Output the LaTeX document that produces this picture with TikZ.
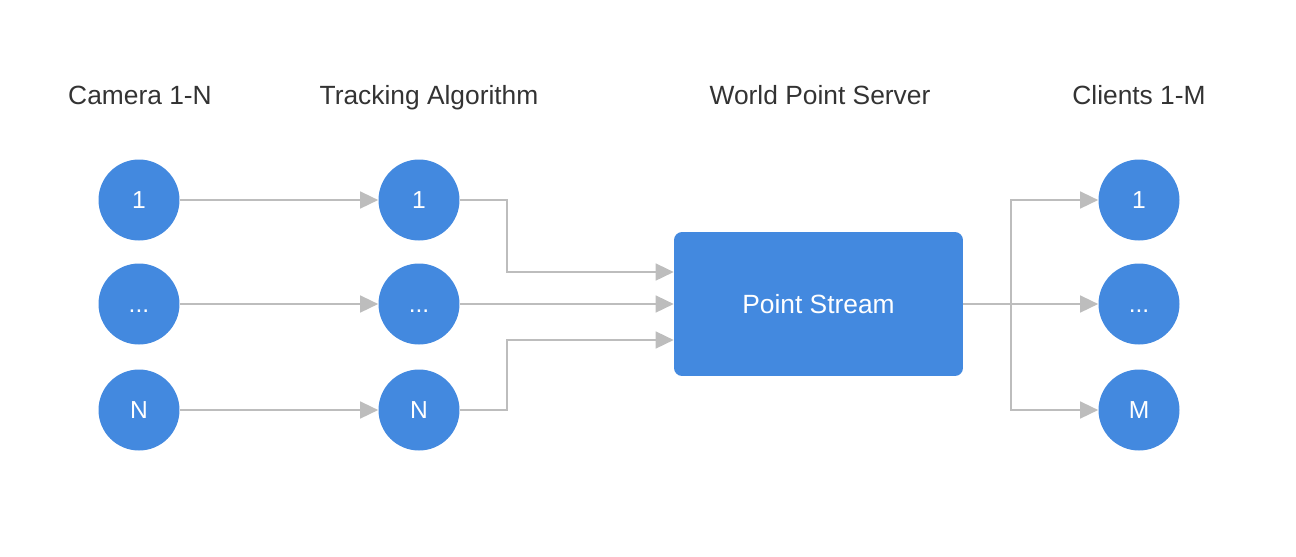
\documentclass[tikz,border=0pt]{standalone}
\usepackage{fontspec}
\setmainfont{Liberation Sans}
\usetikzlibrary{arrows.meta, positioning}
\definecolor{nodeblue}{RGB}{67, 137, 223}
\definecolor{linkgray}{RGB}{189, 189, 189}
\definecolor{headgray}{RGB}{51, 51, 51}

\begin{document}
\begin{tikzpicture}[x=0.02cm, y=-0.02cm,
  dot/.style={circle, fill=nodeblue, draw=none, minimum size=1.62cm, inner sep=0pt,
    text height=10pt, text depth=0pt,
    text=white, font=\fontsize{14}{16}\selectfont},
  server/.style={rectangle, rounded corners=0.16cm, fill=nodeblue, draw=none,
    minimum width=5.78cm, minimum height=2.88cm, inner sep=0pt,
    text=white, font=\fontsize{15}{18}\selectfont},
  head/.style={anchor=base, text=headgray, font=\fontsize{15}{18}\selectfont},
  link/.style={draw=linkgray, line width=0.9pt, -{Triangle[length=0.36cm, width=0.34cm]}}]
  \useasboundingbox (0, 0) rectangle (1296, 556);

  % column titles
  \node[head] (hcam) at (140, 104) {Camera 1-N};
  \node[head] (htrack) at (429, 104) {Tracking Algorithm};
  \node[head] (hserver) at (820, 104) {World Point Server};
  \node[head] (hclient) at (1139, 104) {Clients 1-M};

  % cameras
  \node[dot] (cam1) at (139, 200) {1};
  \node[dot] (cam2) at (139, 304) {...};
  \node[dot] (cam3) at (139, 410) {N};

  % trackers
  \node[dot] (trk1) at (419, 200) {1};
  \node[dot] (trk2) at (419, 304) {...};
  \node[dot] (trk3) at (419, 410) {N};

  % server
  \node[server] (ps) at (818.5, 304) {Point Stream};

  % clients
  \node[dot] (cli1) at (1139, 200) {1};
  \node[dot] (cli2) at (1139, 304) {...};
  \node[dot] (cli3) at (1139, 410) {M};

  \coordinate (join1) at (507, 200);
  \coordinate (join3) at (507, 410);
  \coordinate (split) at (1011, 304);

  \draw[link] (cam1) -- (trk1);
  \draw[link] (cam2) -- (trk2);
  \draw[link] (cam3) -- (trk3);

  \draw[link] (trk1.east) -- (join1) |- ([yshift=0.64cm]ps.west);
  \draw[link] (trk2.east) -- (ps.west);
  \draw[link] (trk3.east) -- (join3) |- ([yshift=-0.72cm]ps.west);

  \draw[link] (ps.east) -- (split) |- (cli1.west);
  \draw[link] (ps.east) -- (cli2.west);
  \draw[link] (split) |- (cli3.west);
\end{tikzpicture}
\end{document}
